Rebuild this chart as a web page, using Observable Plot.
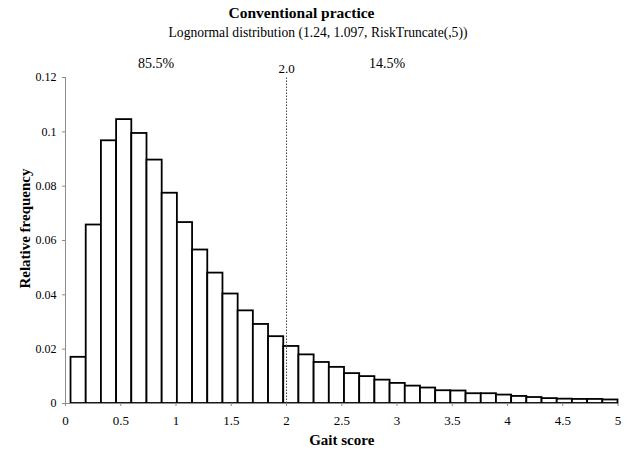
<!DOCTYPE html>
<html>
<head>
<meta charset="utf-8">
<script src="https://cdn.jsdelivr.net/npm/d3@7"></script>
<script src="https://cdn.jsdelivr.net/npm/@observablehq/plot@0.6"></script>
<style>
  html, body { margin: 0; padding: 0; background: #fff; }
  #wrap { width: 632px; height: 450px; position: relative; font-family: "Liberation Serif", "Times New Roman", serif; color: #000; }
  #head { position: relative; width: 632px; height: 46px; }
  #title { position: absolute; left: 0; width: 603px; top: 5px; text-align: center; font-size: 15.5px; line-height: 15.5px; font-weight: bold; }
  #subtitle { position: absolute; left: 4px; width: 628px; top: 25.5px; text-align: center; font-size: 13.6px; line-height: 13.6px; }
  svg { display: block; }
</style>
</head>
<body>
<div id="wrap">
  <div id="head">
    <div id="title"></div>
    <div id="subtitle"></div>
  </div>
  <div id="chart"></div>
</div>
<script>
// ---- data ----
const titleText = "Conventional practice";
const subtitleText = "Lognormal distribution (1.24, 1.097, RiskTruncate(,5))";
const xLabel = "Gait score";
const yLabel = "Relative frequency";

// histogram bin edges (Gait score)
const binEdges = [0.05, 0.1875, 0.325, 0.4625, 0.6, 0.7375, 0.875, 1.0125, 1.15, 1.2875,
  1.425, 1.5625, 1.7, 1.8375, 1.975, 2.1125, 2.25, 2.3875, 2.525, 2.6625,
  2.8, 2.9375, 3.075, 3.2125, 3.35, 3.4875, 3.625, 3.7625, 3.9, 4.0375,
  4.175, 4.3125, 4.45, 4.5875, 4.725, 4.8625, 5.0];

// relative frequency of each bin
const freq = [0.0170, 0.0657, 0.0967, 0.1045, 0.0994, 0.0896, 0.0774, 0.0666, 0.0565, 0.0480,
  0.0403, 0.0341, 0.0291, 0.0246, 0.0210, 0.0179, 0.0151, 0.0133, 0.0110, 0.0099,
  0.0086, 0.0074, 0.0064, 0.0057, 0.0047, 0.0046, 0.0036, 0.0036, 0.0031, 0.0026,
  0.0022, 0.0018, 0.0016, 0.0015, 0.0015, 0.0013];

const xTicks = [0, 0.5, 1, 1.5, 2, 2.5, 3, 3.5, 4, 4.5, 5];
const xTickLabels = ["0", "0.5", "1", "1.5", "2", "2.5", "3", "3.5", "4", "4.5", "5"];
const yTicks = [0, 0.02, 0.04, 0.06, 0.08, 0.1, 0.12];
const yTickLabels = ["0", "0.02", "0.04", "0.06", "0.08", "0.1", "0.12"];

const threshold = 2.0;
const thresholdLabel = "2.0";
const shareLabels = ["85.5%", "14.5%"];
const shareX = [0.82, 2.91];
const labelY = 0.1234;
const thresholdLabelY = 0.1216;
const thresholdTop = 0.1198;
const yLabelAt = 0.0644;

// ---- build ----
const bins = freq.map((f, i) => ({x1: binEdges[i], x2: binEdges[i + 1], y: f}));
const shares = shareLabels.map((t, i) => ({x: shareX[i], y: labelY, t}));

document.getElementById("title").textContent = titleText;
document.getElementById("subtitle").textContent = subtitleText;

const font = "Liberation Serif, Times New Roman, serif";
const axisGray = "#8c8c8c";

const chart = Plot.plot({
  width: 632,
  height: 404,
  marginTop: 31,
  marginBottom: 47,
  marginLeft: 65,
  marginRight: 14.5,
  style: {fontFamily: font, background: "#fff", color: "#000"},
  x: {domain: [0, 5]},
  y: {domain: [0, 0.12]},
  marks: [
    Plot.rectY(bins, {x1: "x1", x2: "x2", y: "y", fill: "#fff", stroke: "#000", strokeWidth: 1.8}),
    Plot.ruleX([0], {y1: 0, y2: 0.12, stroke: axisGray, strokeWidth: 1}),
    Plot.ruleY([0], {stroke: axisGray, strokeWidth: 1}),
    Plot.ruleX([threshold], {y1: 0, y2: thresholdTop, stroke: "#444", strokeWidth: 1, strokeDasharray: "1.5,1.5"}),
    Plot.axisX({ticks: xTicks, tickFormat: (d) => xTickLabels[xTicks.indexOf(d)], tickSize: 3, tickPadding: 9,
      stroke: axisGray, fontSize: 13, label: null}),
    Plot.axisY({ticks: yTicks, tickFormat: (d) => yTickLabels[yTicks.indexOf(d)], tickSize: 3, tickPadding: 6,
      stroke: axisGray, fontSize: 12, label: null}),
    Plot.text(shares, {x: "x", y: "y", text: "t", fontSize: 14, lineAnchor: "bottom"}),
    Plot.text([thresholdLabel], {x: threshold, y: thresholdLabelY, text: (d) => d, fontSize: 13, lineAnchor: "bottom"}),
    Plot.text([xLabel], {frameAnchor: "bottom", dy: 41, text: (d) => d, fontSize: 15, fontWeight: "bold", lineAnchor: "bottom"}),
    Plot.text([yLabel], {x: 0, y: yLabelAt, dx: -40.5, rotate: -90, text: (d) => d, fontSize: 15, fontWeight: "bold", lineAnchor: "middle"})
  ]
});
document.getElementById("chart").appendChild(chart);
</script>
</body>
</html>
